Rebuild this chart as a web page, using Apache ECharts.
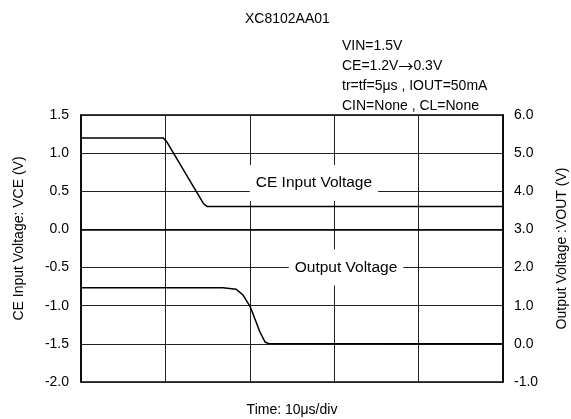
<!DOCTYPE html>
<html>
<head>
<meta charset="utf-8">
<script src="https://cdn.jsdelivr.net/npm/echarts@6/dist/echarts.min.js"></script>
<style>
html,body{margin:0;padding:0;background:#fff;}
#chart{width:571px;height:419px;}
</style>
</head>
<body>
<div id="chart"></div>
<script>
// time in us, CE in V (left axis)
var ceTime = [0, 9.75, 10.15, 14.5, 14.96, 50];
var ceVolt = [1.2, 1.2, 1.15, 0.34, 0.3, 0.3];
// time in us, VOUT in V (right axis)
var outTime = [0, 16.8, 16.9, 18.4, 19.2, 20.06, 20.6, 21.2, 21.8, 22.2, 50];
var outVolt = [1.47, 1.47, 1.44, 1.43, 1.28, 0.97, 0.66, 0.31, 0.05, 0.01, 0.0];

var conditions = ['VIN=1.5V', 'CE=1.2V{a|\u2192}0.3V', 'tr=tf=5\u03bcs , IOUT=50mA', 'CIN=None , CL=None'];

function zip(a, b){
    return a.map(function(v, i){ return [v, b[i]]; });
}

var font = 'Liberation Sans';
var chart = echarts.init(document.getElementById('chart'));
chart.setOption({
    animation: false,
    textStyle: { fontFamily: font, color: '#000' },
    title: [
        { text: 'XC8102AA01', left: 240, top: 7,
          textStyle: { fontFamily: font, fontSize: 14, fontWeight: 'normal', color: '#000' } },
        { text: conditions.join('\n'), left: 337, top: 31,
          textStyle: { fontFamily: font, fontSize: 14, fontWeight: 'normal', color: '#000', lineHeight: 20,
              rich: { a: { fontFamily: 'Noto Sans CJK JP', fontSize: 15, color: '#000', lineHeight: 20 } } } }
    ],
    grid: { left: 81, right: 68, top: 115, bottom: 37, outerBoundsMode: 'none',
        show: true, borderColor: '#000', borderWidth: 1.5 },
    xAxis: {
        type: 'value', min: 0, max: 50, interval: 10,
        name: 'Time: 10\u03bcs/div', nameLocation: 'middle', nameGap: 21,
        nameTextStyle: { fontFamily: font, fontSize: 14, color: '#000' },
        axisLine: { lineStyle: { color: '#000', width: 1.5 } },
        axisTick: { show: false },
        axisLabel: { show: false },
        splitLine: { show: true, lineStyle: { color: '#222', width: 1 } }
    },
    yAxis: [
        {
            type: 'value', min: -2, max: 1.5, interval: 0.5,
            name: 'CE Input Voltage: VCE (V)', nameLocation: 'middle', nameGap: 55, nameRotate: 90,
            nameTextStyle: { fontFamily: font, fontSize: 14, color: '#000', padding: [0, 0, 0, 20] },
            axisLine: { show: true, lineStyle: { color: '#000', width: 1.5 } },
            axisTick: { show: false },
            axisLabel: { fontFamily: font, fontSize: 14, color: '#000', margin: 12,
                formatter: function(v){ return v.toFixed(1); } },
            splitLine: { show: true, lineStyle: { color: '#222', width: 1 } }
        },
        {
            type: 'value', min: -1, max: 6, interval: 1,
            name: 'Output Voltage :VOUT (V)', nameLocation: 'middle', nameGap: 52, nameRotate: 90,
            nameTextStyle: { fontFamily: font, fontSize: 14, color: '#000' },
            axisLine: { show: true, lineStyle: { color: '#000', width: 1.5 } },
            axisTick: { show: false },
            axisLabel: { fontFamily: font, fontSize: 14, color: '#000', margin: 11,
                formatter: function(v){ return v.toFixed(1); } },
            splitLine: { show: false }
        }
    ],
    series: [
        {
            name: 'CE Input Voltage', type: 'line', yAxisIndex: 0,
            data: zip(ceTime, ceVolt), showSymbol: false,
            lineStyle: { color: '#000', width: 1.5 },
            markPoint: {
                symbol: 'rect', symbolSize: 0,
                label: { show: true, position: 'inside', fontFamily: font, fontSize: 15.5, color: '#000',
                    backgroundColor: '#fff', padding: [10, 6], formatter: '{b}' },
                data: [
                    { name: 'CE Input Voltage', coord: [27.6, 0.61] },
                    { name: 'Output Voltage', coord: [31.4, -0.5] }
                ]
            }
        },
        {
            name: 'Output Voltage', type: 'line', yAxisIndex: 1,
            data: zip(outTime, outVolt), showSymbol: false,
            lineStyle: { color: '#000', width: 1.5 }
        }
    ]
});
</script>
</body>
</html>
